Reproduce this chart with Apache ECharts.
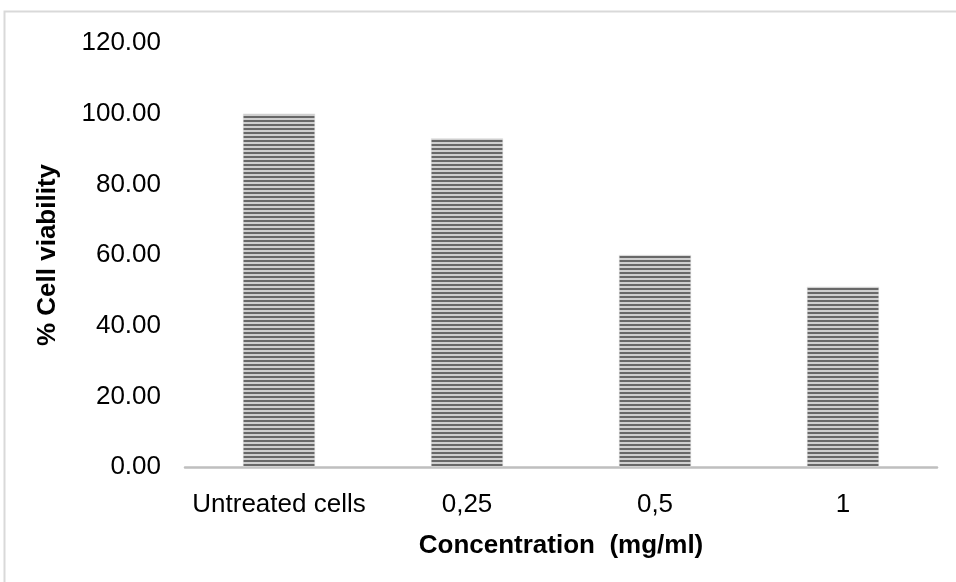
<!DOCTYPE html>
<html>
<head>
<meta charset="utf-8">
<script src="https://cdn.jsdelivr.net/npm/echarts@6/dist/echarts.min.js"></script>
<style>
  html, body { margin: 0; padding: 0; background: #fff; }
  #chart { width: 956px; height: 582px; }
</style>
</head>
<body>
<div id="chart"></div>
<script>
// Cell viability per concentration
const categories = ['Untreated cells', '0,25', '0,5', '1'];
const viability = [100.0, 93.0, 60.0, 51.0];
const yTicks = { min: 0, max: 120, interval: 20 };

// Horizontal stripe fill for the bars
function stripePattern() {
  const c = document.createElement('canvas');
  c.width = 8; c.height = 4;
  const ctx = c.getContext('2d');
  ctx.fillStyle = '#cfcfcf';
  ctx.fillRect(0, 0, 8, 4);
  ctx.fillStyle = '#686868';
  ctx.fillRect(0, 0, 8, 2);
  return c;
}

const chart = echarts.init(document.getElementById('chart'), null, { renderer: 'canvas' });
const font = '"Liberation Sans", Arial, sans-serif';

chart.setOption({
  animation: false,
  backgroundColor: '#ffffff',
  graphic: [{
    type: 'rect',
    shape: { x: 4.5, y: 11.5, width: 1000, height: 700 },
    style: { fill: 'none', stroke: '#d9d9d9', lineWidth: 2 },
    silent: true
  }],
  grid: { left: 185, right: 19, top: 43, bottom: 115 },
  xAxis: {
    type: 'category',
    data: categories,
    name: 'Concentration  (mg/ml)',
    nameLocation: 'middle',
    nameGap: 66,
    nameTextStyle: { fontFamily: font, fontSize: 26, fontWeight: 'bold', color: '#000' },
    axisLine: { lineStyle: { color: '#bfbfbf', width: 2.5 } },
    axisTick: { show: false },
    axisLabel: { fontFamily: font, fontSize: 26, color: '#000', margin: 25, interval: 0 }
  },
  yAxis: {
    type: 'value',
    min: yTicks.min,
    max: yTicks.max,
    interval: yTicks.interval,
    name: '% Cell viability',
    nameLocation: 'middle',
    nameGap: 124,
    nameTextStyle: { fontFamily: font, fontSize: 26, fontWeight: 'bold', color: '#000' },
    axisLine: { show: false },
    axisTick: { show: false },
    splitLine: { show: false },
    axisLabel: {
      fontFamily: font, fontSize: 26, color: '#000', margin: 24,
      formatter: v => v.toFixed(2)
    }
  },
  series: [{
    type: 'bar',
    data: viability,
    barWidth: 72,
    itemStyle: {
      color: { image: stripePattern(), repeat: 'repeat' },
      borderColor: '#d8d8d8',
      borderWidth: 0.5
    }
  }]
});
</script>
</body>
</html>
